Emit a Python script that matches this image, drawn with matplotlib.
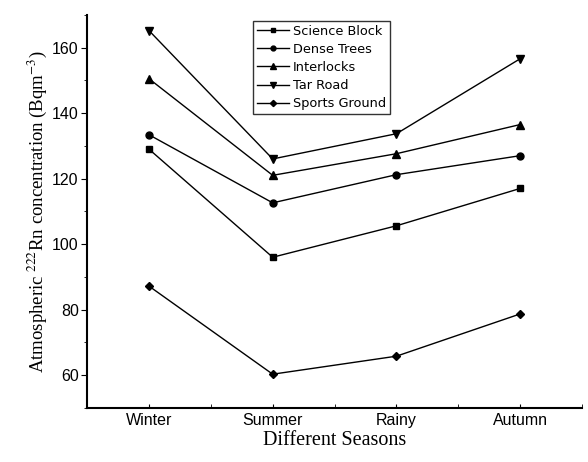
import matplotlib.pyplot as plt
from matplotlib.ticker import MultipleLocator

plt.rcParams['mathtext.fontset'] = 'stix'

seasons = ['Winter', 'Summer', 'Rainy', 'Autumn']
science_block = [129, 96, 105.6, 117]
dense_trees = [133.4, 112.6, 121.2, 127]
interlocks = [150.5, 121, 127.6, 136.5]
tar_road = [165.2, 126, 133.7, 156.6]
sports_ground = [87.2, 60.3, 65.8, 78.7]

x = [1, 2, 3, 4]

fig = plt.figure(figsize=(5.88, 4.62), dpi=100)
ax = fig.add_axes([0.148, 0.117, 0.842, 0.851])

ax.plot(x, science_block, color='black', lw=1, marker='s', ms=5, label='Science Block')
ax.plot(x, dense_trees, color='black', lw=1, marker='o', ms=5, label='Dense Trees')
ax.plot(x, interlocks, color='black', lw=1, marker='^', ms=6, label='Interlocks')
ax.plot(x, tar_road, color='black', lw=1, marker='v', ms=6, label='Tar Road')
ax.plot(x, sports_ground, color='black', lw=1, marker='D', ms=4.5, label='Sports Ground')

ax.set_xlim(0.5, 4.5)
ax.set_ylim(50, 170)
ax.set_xticks(x)
ax.set_xticklabels(seasons, fontsize=11.5, family='Liberation Sans')
ax.xaxis.set_minor_locator(MultipleLocator(0.5))
ax.yaxis.set_minor_locator(MultipleLocator(10))
ax.set_yticks([60, 80, 100, 120, 140, 160])
for lab in ax.get_yticklabels():
    lab.set_family('Liberation Sans')
    lab.set_fontsize(11.5)
ax.tick_params(axis='x', which='both', direction='in', length=3)
ax.tick_params(axis='y', which='major', direction='out', length=4, pad=2)
ax.tick_params(axis='y', which='minor', direction='out', length=2)

ax.spines['top'].set_visible(False)
ax.spines['right'].set_visible(False)
ax.spines['left'].set_linewidth(1.5)
ax.spines['bottom'].set_linewidth(1.5)

ax.set_xlabel('Different Seasons', fontsize=14.5, family='Liberation Serif', labelpad=2)
ax.set_ylabel('Atmospheric $^{222}$Rn concentration (Bqm$^{-3}$)', fontsize=13.5,
              family='Liberation Serif', labelpad=2)

leg = ax.legend(loc='upper left', bbox_to_anchor=(0.335, 0.985), fontsize=9.3,
                frameon=True, fancybox=False, edgecolor='black',
                handlelength=2.5, handletextpad=0.3, labelspacing=0.4,
                borderpad=0.3, borderaxespad=0, markerscale=0.7)
leg.get_frame().set_linewidth(1)

fig.savefig('out.png')
